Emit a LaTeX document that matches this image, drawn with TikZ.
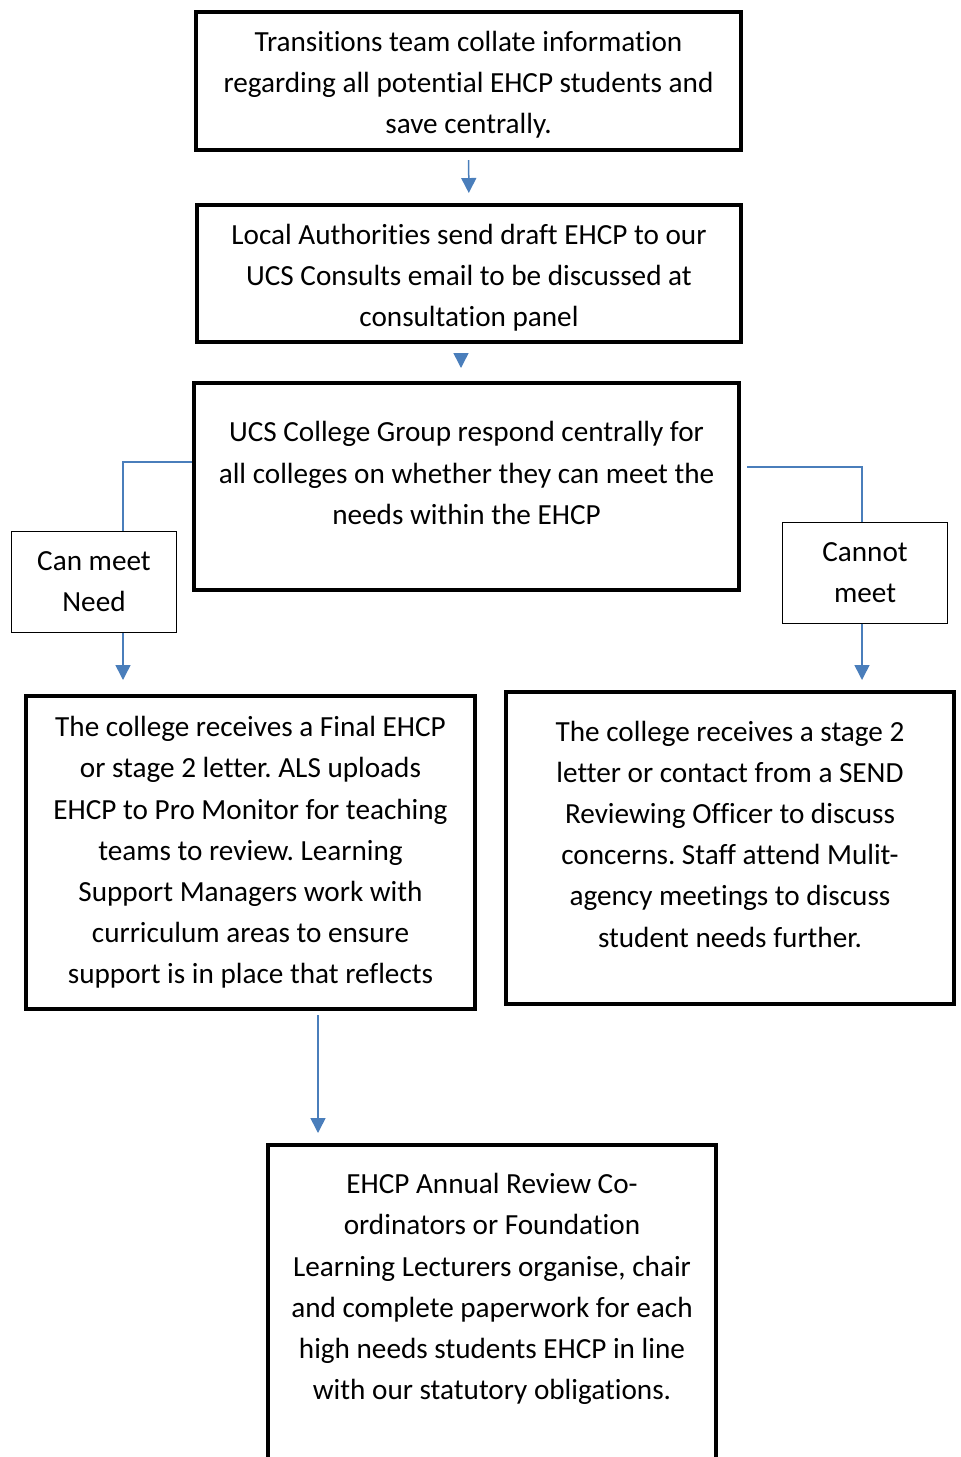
\documentclass[tikz,border=0pt]{standalone}
\usepackage{fontspec}
\setmainfont{Carlito}[Ligatures={NoCommon,NoContextual}, RawFeature={-liga;-clig;-dlig;-calt}]
\usepackage{tikz}
\usetikzlibrary{arrows.meta}
\definecolor{linkblue}{RGB}{74,126,187}
\frenchspacing

\begin{document}
\begin{tikzpicture}[x=0.5pt, y=-0.5pt,
    every node/.style={font=\fontsize{14.6}{20.6}\selectfont},
    bigbox/.style={draw, line width=2pt, inner sep=0pt, align=center},
    smallbox/.style={draw, line width=0.5pt, inner sep=0pt, align=center, minimum width=82.5pt, minimum height=50.5pt},
    link/.style={draw=linkblue, line width=0.75pt},
    flow/.style={link, -{Triangle[width=7.5pt,length=7.5pt]}}]
    \useasboundingbox (0,0) rectangle (960,1457);

    \node[bigbox, minimum width=272.5pt, minimum height=69pt] (collate) at (468.5,81) {};
    \node[align=center] (collatetxt) at (468.5,85) {Transitions team collate information\\regarding all potential EHCP students and\\save centrally.};
    \node[bigbox, minimum width=272pt, minimum height=68.5pt] (draft) at (469,273.5) {};
    \node[align=center] (drafttxt) at (469,277.5) {Local Authorities send draft EHCP to our\\UCS Consults email to be discussed at\\consultation panel};
    \node[bigbox, minimum width=272.5pt, minimum height=103.5pt] (respond) at (466.5,486.5) {};
    \node[align=center] (respondtxt) at (466.5,473) {UCS College Group respond centrally for\\all colleges on whether they can meet the\\needs within the EHCP};

    \node[smallbox] (canmeet) at (94,582) {Can meet\\Need};
    \node[smallbox] (cannot) at (865,572.5) {Cannot\\meet};

    \node[bigbox, minimum width=224.5pt, minimum height=156.5pt] (final) at (250.5,852.5) {The college receives a Final EHCP\\or stage 2 letter. ALS uploads\\EHCP to Pro Monitor for teaching\\teams to review. Learning\\Support Managers work with\\curriculum areas to ensure\\support is in place that reflects};
    \node[bigbox, minimum width=224pt, minimum height=156pt] (stagetwo) at (730,848) {};
    \node[align=center] (stagetwotxt) at (730,834) {The college receives a stage 2\\letter or contact from a SEND\\Reviewing Officer to discuss\\concerns. Staff attend Mulit-\\agency meetings to discuss\\student needs further.};

    \node[bigbox, minimum width=224pt, minimum height=165pt] (review) at (492,1310) {};
    \node[align=center] (reviewtxt) at (492,1289) {EHCP Annual Review Co-\\ordinators or Foundation\\Learning Lecturers organise, chair\\and complete paperwork for each\\high needs students EHCP in line\\with our statutory obligations.};

    % arrows down the middle
    \draw[flow, shorten <=4pt, shorten >=5pt] (collate) -- (draft);
    \draw[flow, shorten <=5pt, shorten >=6.5pt] ([xshift=-4pt]draft.south) -- ([xshift=-4pt]draft.south |- respond.north);

    % the two outcomes
    \draw[link] ([yshift=12.25pt]respond.west) -| ([xshift=14.5pt]canmeet.north);
    \draw[link] ([xshift=3pt,yshift=9.75pt]respond.east) -| ([xshift=-1.5pt]cannot.north);
    \draw[flow, shorten >=7pt] ([xshift=14.5pt]canmeet.south) -- ([xshift=14.5pt]canmeet.south |- final.north);
    \draw[flow, shorten >=5pt] ([xshift=-1.5pt]cannot.south) -- ([xshift=-1.5pt]cannot.south |- stagetwo.north);

    \draw[flow, shorten <=2pt, shorten >=5pt] ([xshift=33.75pt]final.south) -- ([xshift=33.75pt]final.south |- review.north);
\end{tikzpicture}
\end{document}
